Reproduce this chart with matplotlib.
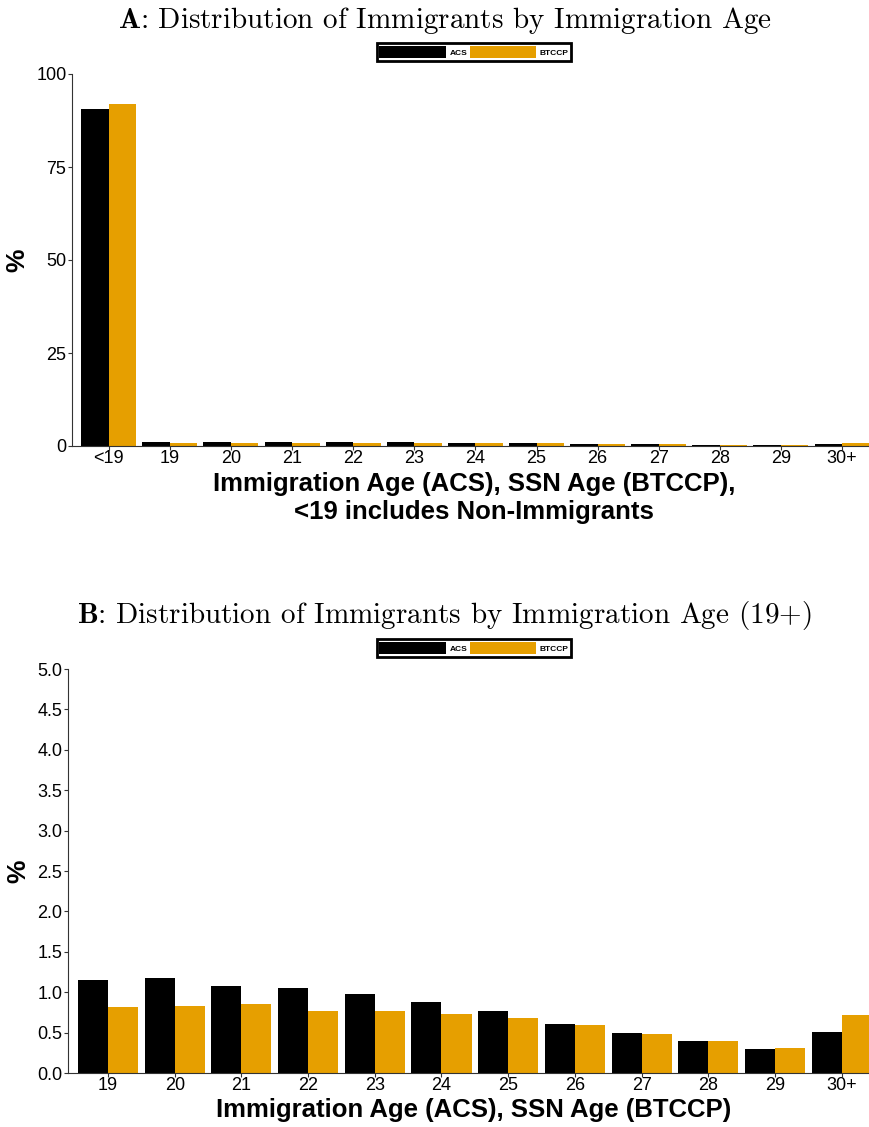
# Distribution of immigrants by immigration age, ACS vs BTCCP

import numpy as np
from matplotlib import pyplot as plt
from matplotlib.patches import Patch

plt.rcParams['mathtext.fontset'] = 'cm'

ages_a = ['<19', '19', '20', '21', '22', '23', '24', '25', '26', '27', '28', '29', '30+']
acs_a = [90.5, 1.15, 1.17, 1.08, 1.05, 0.98, 0.88, 0.77, 0.61, 0.49, 0.39, 0.30, 0.51]
btccp_a = [92.0, 0.82, 0.83, 0.85, 0.77, 0.77, 0.73, 0.68, 0.60, 0.48, 0.40, 0.31, 0.72]

ages_b = ['19', '20', '21', '22', '23', '24', '25', '26', '27', '28', '29', '30+']
acs_b = [1.15, 1.17, 1.08, 1.05, 0.98, 0.88, 0.77, 0.61, 0.49, 0.39, 0.30, 0.51]
btccp_b = [0.82, 0.83, 0.85, 0.77, 0.77, 0.73, 0.68, 0.60, 0.48, 0.40, 0.31, 0.72]

black = '#000000'
orange = '#E69F00'
tickfont = ['Liberation Sans Narrow', 'Liberation Sans', 'DejaVu Sans']
labfont = ['Liberation Sans', 'DejaVu Sans']

fig = plt.figure(figsize=(8.69, 11.27), dpi=100)
W, H = 869.0, 1127.0


def panel(rect, cats, acs, btccp, ylim, yticks, ylabels, xlim):
    ax = fig.add_axes(rect)
    x = np.arange(len(cats))
    w = 0.45
    ax.bar(x - w / 2, acs, w, color=black, edgecolor='none')
    ax.bar(x + w / 2, btccp, w, color=orange, edgecolor='none')
    ax.set_xlim(*xlim)
    ax.set_ylim(*ylim)
    ax.set_xticks(x)
    ax.set_xticklabels(cats, fontsize=13, family=tickfont)
    ax.set_yticks(yticks)
    ax.set_yticklabels(ylabels, fontsize=13, family=tickfont)
    ax.tick_params(length=3, width=0.8, color='#333333', pad=1)
    ax.tick_params(axis='x', pad=0)
    for s in ['top', 'right']:
        ax.spines[s].set_visible(False)
    for s in ['left', 'bottom']:
        ax.spines[s].set_linewidth(0.8)
        ax.spines[s].set_color('#333333')
    ax.set_ylabel('%', fontsize=19, fontweight='bold', family=labfont)
    return ax


# panel A
axA = panel([72 / W, 1 - 446 / H, 1 - 72 / W, (446 - 74) / H],
            ages_a, acs_a, btccp_a, (0, 100), [0, 25, 50, 75, 100],
            ['0', '25', '50', '75', '100'], (-0.6, 12.44))
axA.yaxis.set_label_coords(-0.053, 0.5)

# panel B
ytb = np.arange(0, 5.01, 0.5)
axB = panel([68 / W, 1 - 1073 / H, 1 - 68 / W, (1073 - 669) / H],
            ages_b, acs_b, btccp_b, (0, 5), ytb, ['%.1f' % v for v in ytb],
            (-0.6, 11.41))
axB.yaxis.set_label_coords(-0.047, 0.5)

# titles
fig.text(445 / W, 1 - 20 / H, r'$\mathbf{A}$: Distribution of Immigrants by Immigration Age',
         ha='center', va='center', fontsize=21, family='cmr10')
fig.text(444 / W, 1 - 615 / H, r'$\mathbf{B}$: Distribution of Immigrants by Immigration Age (19+)',
         ha='center', va='center', fontsize=21, family='cmr10')

# x labels
fig.text(474 / W, 1 - 498 / H, 'Immigration Age (ACS), SSN Age (BTCCP),\n<19 includes Non-Immigrants',
         ha='center', va='center', fontsize=18.5, fontweight='bold', family=labfont,
         linespacing=1.25)
fig.text(474 / W, 1 - 1110 / H, 'Immigration Age (ACS), SSN Age (BTCCP)',
         ha='center', va='center', fontsize=18.5, fontweight='bold', family=labfont)

# legends
handles = [Patch(facecolor=black, label='ACS'), Patch(facecolor=orange, label='BTCCP')]
for yc in [52, 648]:
    leg = fig.legend(handles=handles, loc='center', bbox_to_anchor=(474 / W, 1 - yc / H),
                     ncol=2, frameon=True, fancybox=False, framealpha=1,
                     handlelength=8.0, handleheight=1.7,
                     handletextpad=0.4, columnspacing=0.3, borderpad=0.35,
                     prop={'size': 6, 'weight': 'bold', 'family': labfont})
    leg.get_frame().set_edgecolor('black')
    leg.get_frame().set_linewidth(2)

fig.savefig('out.png', dpi=100)
